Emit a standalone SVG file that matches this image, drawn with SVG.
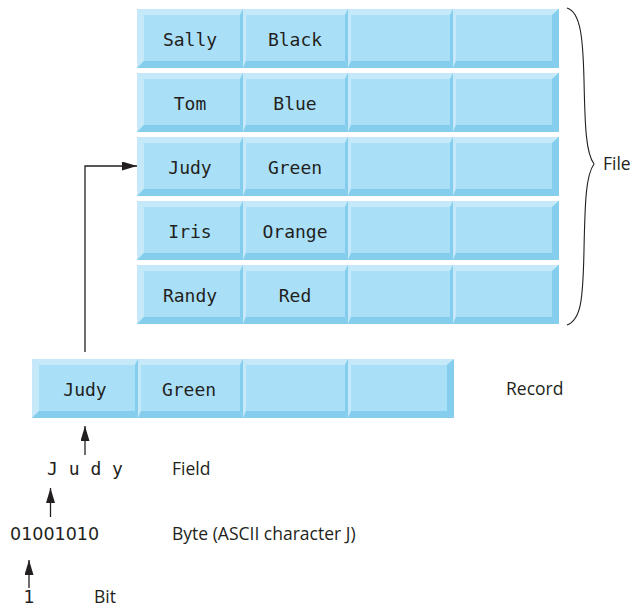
<svg xmlns="http://www.w3.org/2000/svg" xmlns:xlink="http://www.w3.org/1999/xlink" width="632" height="607" viewBox="0 0 632 607">
  <style>
    .face { fill: #aadff8; }
    .lt { fill: #c6e9f9; }
    .dk { fill: #84cdec; }
    .mono { font-family: "DejaVu Sans Mono", "Liberation Mono", monospace; font-size: 18px; fill: #231f20; text-anchor: middle; }
    .lbl { font-family: "Open Sans", "Liberation Sans", sans-serif; font-size: 17.5px; fill: #231f20; }
    .dig { font-family: "DejaVu Sans", "Liberation Sans", sans-serif; font-size: 17.5px; fill: #231f20; }
    .conn { fill: none; stroke: #231f20; stroke-width: 1.3; }
    .brace { fill: none; stroke: #231f20; stroke-width: 1.1; }
  </style>
  <defs>
    <marker id="arrow" markerUnits="userSpaceOnUse" markerWidth="16" markerHeight="10" refX="15" refY="4.5" orient="auto">
      <path d="M0,0 L15,4.5 L0,9 z" fill="#231f20"/>
    </marker>
    <g id="rowShape">
      <rect x="0" y="0" width="422" height="59" class="face"/>
      <!-- cell 1 -->
      <polygon class="lt" points="0,0 106,0 103,6 7,6"/>
      <polygon class="lt" points="0,0 7,6 7,52 0,59"/>
      <polygon class="dk" points="0,59 7,52 103,52 106,59"/>
      <polygon class="dk" points="106,0 106,59 103,52 103,6"/>
      <!-- cell 2 -->
      <polygon class="lt" points="106,0 211,0 208,6 109,6"/>
      <polygon class="lt" points="106,0 109,6 109,52 106,59"/>
      <polygon class="dk" points="106,59 109,52 208,52 211,59"/>
      <polygon class="dk" points="211,0 211,59 208,52 208,6"/>
      <!-- cell 3 -->
      <polygon class="lt" points="211,0 316,0 313,6 214,6"/>
      <polygon class="lt" points="211,0 214,6 214,52 211,59"/>
      <polygon class="dk" points="211,59 214,52 313,52 316,59"/>
      <polygon class="dk" points="316,0 316,59 313,52 313,6"/>
      <!-- cell 4 -->
      <polygon class="lt" points="316,0 422,0 415,6 319,6"/>
      <polygon class="lt" points="316,0 319,6 319,52 316,59"/>
      <polygon class="dk" points="316,59 319,52 415,52 422,59"/>
      <polygon class="dk" points="422,0 422,59 415,52 415,6"/>
    </g>
  </defs>

  <g id="file-row-1" transform="translate(137,9)">
    <use xlink:href="#rowShape" href="#rowShape"/>
    <text class="mono" x="53" y="37">Sally</text>
    <text class="mono" x="158" y="37">Black</text>
  </g>
  <g id="file-row-2" transform="translate(137,73)">
    <use xlink:href="#rowShape" href="#rowShape"/>
    <text class="mono" x="53" y="37">Tom</text>
    <text class="mono" x="158" y="37">Blue</text>
  </g>
  <g id="file-row-3" transform="translate(137,137)">
    <use xlink:href="#rowShape" href="#rowShape"/>
    <text class="mono" x="53" y="37">Judy</text>
    <text class="mono" x="158" y="37">Green</text>
  </g>
  <g id="file-row-4" transform="translate(137,201)">
    <use xlink:href="#rowShape" href="#rowShape"/>
    <text class="mono" x="53" y="37">Iris</text>
    <text class="mono" x="158" y="37">Orange</text>
  </g>
  <g id="file-row-5" transform="translate(137,265)">
    <use xlink:href="#rowShape" href="#rowShape"/>
    <text class="mono" x="53" y="37">Randy</text>
    <text class="mono" x="158" y="37">Red</text>
  </g>

  <g id="file-brace">
    <path class="brace" d="M567,8 C581,12 583,40 584,80 C585,128 586,153 594,164 C586,175 585,200 584,250 C583,300 581,320 567,325"/>
    <text class="lbl" x="603" y="170">File</text>
  </g>

  <g id="record" transform="translate(32,359)">
    <use xlink:href="#rowShape" href="#rowShape"/>
    <text class="mono" x="53" y="37">Judy</text>
    <text class="mono" x="157" y="37">Green</text>
  </g>
  <g id="record-label">
    <text class="lbl" x="506" y="395">Record</text>
  </g>

  <g id="field">
    <text class="mono" x="85" y="475">J u d y</text>
    <text class="lbl" x="172" y="475">Field</text>
  </g>

  <g id="byte">
    <text class="dig" x="10" y="540">01001010</text>
    <text class="lbl" x="172" y="540">Byte (ASCII character J)</text>
  </g>

  <g id="bit">
    <text class="dig" x="29" y="603" text-anchor="middle">1</text>
    <text class="lbl" x="94" y="603">Bit</text>
  </g>

  <g id="connectors">
    <path class="conn" d="M85,352 V166 H137" marker-end="url(#arrow)"/>
    <path class="conn" d="M85,455 V426" marker-end="url(#arrow)"/>
    <path class="conn" d="M50.5,517 V488" marker-end="url(#arrow)"/>
    <path class="conn" d="M29,588 V560" marker-end="url(#arrow)"/>
  </g>
</svg>
